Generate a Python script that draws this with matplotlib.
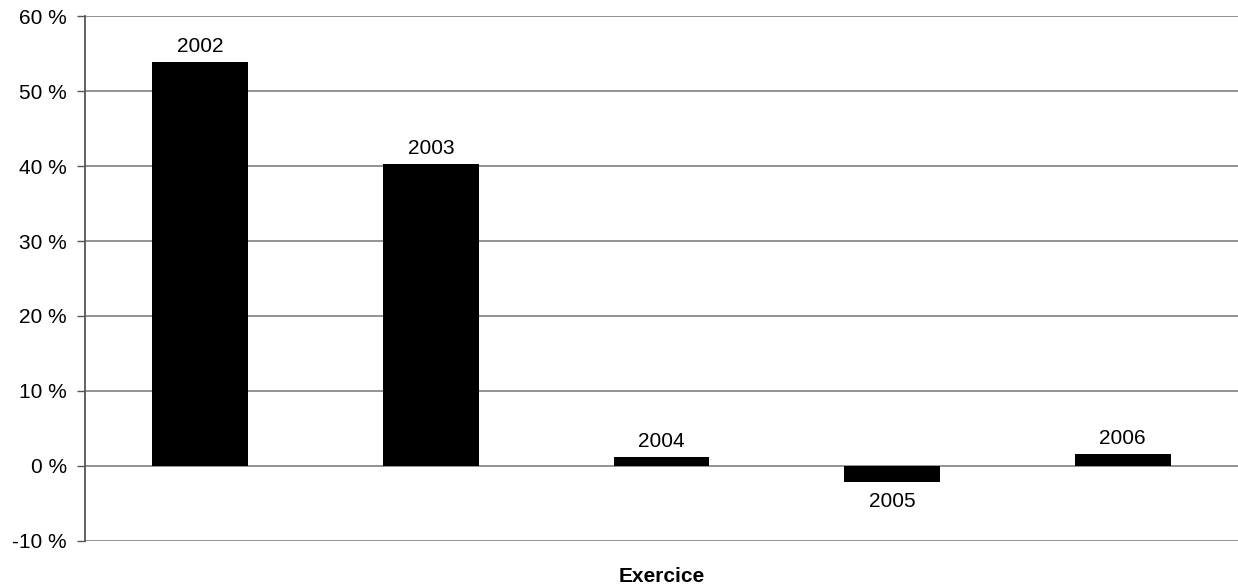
import matplotlib.pyplot as plt
import numpy as np

plt.rcParams['font.family'] = ['Liberation Sans', 'DejaVu Sans']

years = ["2002", "2003", "2004", "2005", "2006"]
growth = [53.9, 40.3, 1.2, -2.1, 1.6]
yticks = [-10, 0, 10, 20, 30, 40, 50, 60]

fig = plt.figure(figsize=(12.38, 5.87), dpi=100)
ax = fig.add_axes([0.0687, 0.0784, 0.9313, 0.8943])

x = np.arange(len(years))
ax.bar(x, growth, width=0.415, color="black", zorder=3)

# year labels above positive bars, below negative ones
for xi, v, yr in zip(x, growth, years):
    if v >= 0:
        ax.annotate(yr, (xi, v), xytext=(0, 4.5), textcoords="offset points",
                    ha="center", va="bottom", fontsize=15)
    else:
        ax.annotate(yr, (xi, v), xytext=(0, -7.5), textcoords="offset points",
                    ha="center", va="top", fontsize=15)

ax.set_xlim(-0.5, len(years) - 0.5)
ax.set_ylim(-10, 60)
ax.set_yticks(yticks)
ax.set_yticklabels([f"{t} %" for t in yticks], fontsize=15)
ax.set_xticks([])
ax.grid(axis="y", color="#808080", linewidth=1.2, zorder=0)
ax.tick_params(axis="y", length=6, width=1, color="#555555", pad=7)

for side in ["top", "right", "bottom"]:
    ax.spines[side].set_visible(False)
ax.spines["left"].set_color("#555555")
ax.spines["left"].set_linewidth(1.3)

ax.set_xlabel("Exercice", fontsize=15, fontweight="bold", labelpad=19)

fig.savefig("out.png", dpi=100)
